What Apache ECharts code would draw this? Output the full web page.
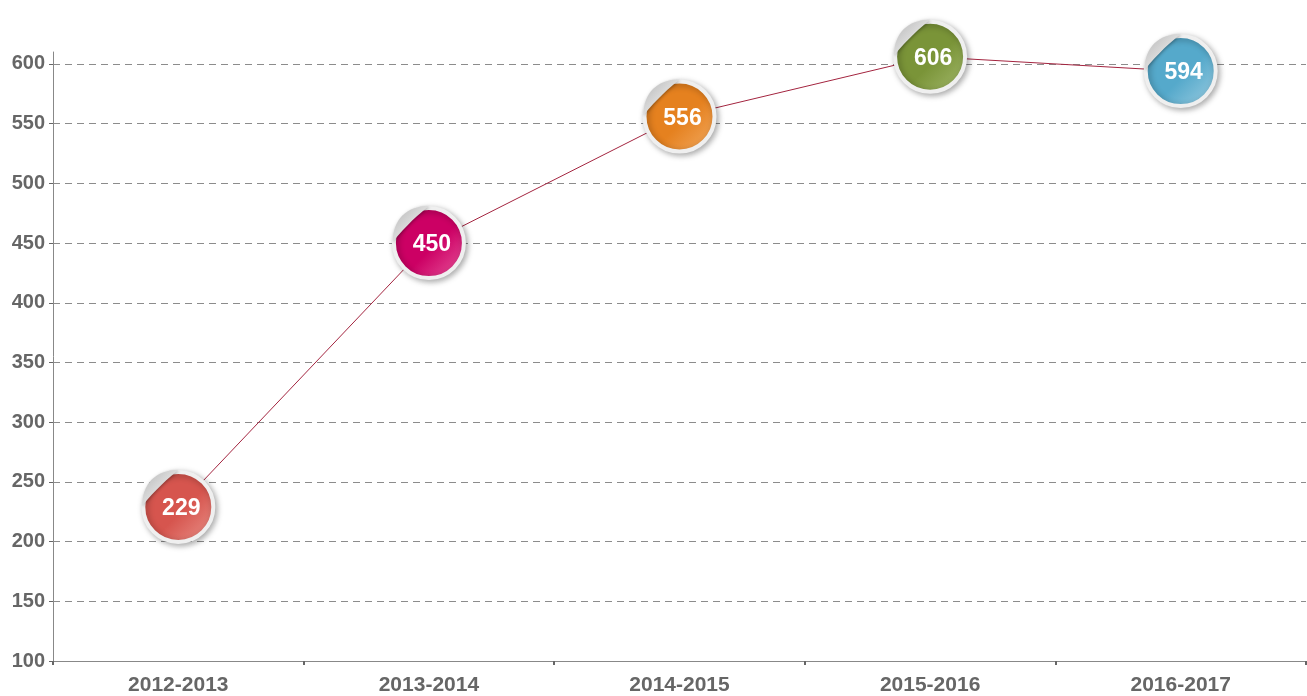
<!doctype html>
<html lang="en">
<head>
    <meta charset="UTF-8">
    <title>chart</title>
    <style>
        html, body { margin: 0; padding: 0; background: #fff; }
        #main { width: 1307px; height: 696px; }
    </style>
    <script src="https://cdn.jsdelivr.net/npm/echarts@6/dist/echarts.min.js"></script>
</head>
<body>
<div id="main"></div>
<script type="text/javascript">
    var years = ['2012-2013', '2013-2014', '2014-2015', '2015-2016', '2016-2017'];
    var values = [229, 450, 556, 606, 594];
    // sticker colours: dark edge -> light edge
    var darkColors = ['#d6554e', '#cc0064', '#e5811f', '#7a9438', '#55a9cb'];
    var lightColors = ['#eb968e', '#ea5ca0', '#f3ad66', '#a6bb70', '#a2d0e3'];

    var myChart = echarts.init(document.getElementById('main'));

    var points = [];
    for (var i = 0; i < values.length; i++) {
        points.push({
            value: values[i],
            itemStyle: {
                color: new echarts.graphic.LinearGradient(0, 0, 1, 1, [
                    {offset: 0, color: darkColors[i]},
                    {offset: 0.55, color: darkColors[i]},
                    {offset: 1, color: lightColors[i]}
                ])
            }
        });
    }

    var fontName = 'Liberation Sans, Arial, sans-serif';

    myChart.setOption({
        animation: false,
        grid: {left: 53, right: 1, top: 52, bottom: 35},
        xAxis: {
            type: 'category',
            data: years,
            boundaryGap: true,
            axisLine: {lineStyle: {color: '#888', width: 1}},
            axisTick: {show: true, length: 4, inside: false, lineStyle: {color: '#666', width: 2}},
            axisLabel: {
                color: '#666', fontSize: 21, fontWeight: 'bold', fontFamily: fontName, margin: 14
            },
            splitLine: {show: false}
        },
        yAxis: {
            type: 'value',
            min: 100,
            max: 610,
            interval: 50,
            axisLine: {show: true, lineStyle: {color: '#888', width: 1}},
            axisTick: {show: true, length: 4, lineStyle: {color: '#666'}},
            axisLabel: {
                color: '#666', fontSize: 20, fontWeight: 'bold', fontFamily: fontName, margin: 8,
                showMaxLabel: false,
                formatter: function (v) { return v % 50 === 0 ? v : ''; }
            },
            splitLine: {
                show: true, showMaxLine: false,
                lineStyle: {color: '#8c8c8c', type: [7, 5], width: 1}
            }
        },
        series: [
            {
                name: 'line',
                type: 'line',
                data: points,
                symbol: 'circle',
                symbolSize: 70,
                z: 3,
                lineStyle: {color: '#a3243f', width: 1},
                itemStyle: {
                    borderColor: '#efefef',
                    borderWidth: 4,
                    shadowBlur: 6,
                    shadowOffsetX: 2,
                    shadowOffsetY: 2,
                    shadowColor: 'rgba(0,0,0,0.3)'
                },
                label: {
                    show: true,
                    position: 'inside',
                    color: '#fff',
                    fontSize: 23,
                    fontWeight: 'bold',
                    fontFamily: fontName,
                    offset: [3, 2]
                }
            },
            {
                // peeled corner of each sticker
                name: 'curl',
                type: 'scatter',
                data: values,
                symbol: 'path://M0,40 C0,15 15,0 40,0 C30,8 14,22 0,40 Z',
                symbolSize: [36, 36],
                symbolOffset: [-18, -19],
                z: 4,
                silent: true,
                itemStyle: {
                    opacity: 1,
                    color: new echarts.graphic.LinearGradient(0, 0, 1, 1, [
                        {offset: 0, color: '#b5b5b5'},
                        {offset: 0.6, color: '#e4e4e4'},
                        {offset: 1, color: '#ffffff'}
                    ]),
                    shadowBlur: 3,
                    shadowColor: 'rgba(0,0,0,0.25)',
                    shadowOffsetX: 1,
                    shadowOffsetY: 1
                }
            }
        ]
    });
</script>
</body>
</html>
